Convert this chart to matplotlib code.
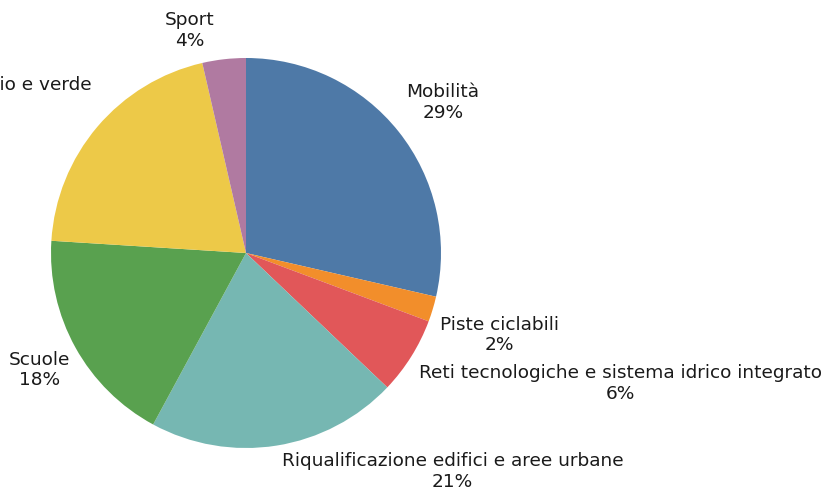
import matplotlib.pyplot as plt

labels = ["Mobilità", "Piste ciclabili", "Reti tecnologiche e sistema idrico integrato",
          "Riqualificazione edifici e aree urbane", "Scuole",
          "Arredo urbano, patrimonio e verde", "Sport"]
values = [28.6, 2.1, 6.4, 20.8, 18.1, 20.4, 3.6]
pct_labels = ["29%", "2%", "6%", "21%", "18%", "20%", "4%"]
colors = ["#4e79a7", "#f28e2b", "#e15759", "#76b7b2", "#59a14f", "#edc948", "#b07aa1"]

# label centres in pie-radius units
label_pos = [(1.01, 0.77), (1.30, -0.42), (1.92, -0.67), (1.06, -1.12),
             (-1.06, -0.60), (-1.615, 0.81), (-0.29, 1.14)]

fig = plt.figure(figsize=(8.35, 4.95), dpi=100)
ax = fig.add_axes([0, 0, 1, 1])
ax.pie(values, colors=colors, startangle=90, counterclock=False, radius=1,
       wedgeprops=dict(linewidth=0))

for lab, pct, (x, y) in zip(labels, pct_labels, label_pos):
    ax.text(x, y, lab + "\n" + pct, ha="center", va="center", fontsize=13.3,
            color="#1a1a1a", linespacing=1.2, family="DejaVu Sans")

ax.set_aspect("auto")
ax.set_xlim(-246 / 195, (835 - 246) / 195)
ax.set_ylim(-(495 - 253) / 195, 253 / 195)
ax.axis("off")

fig.savefig("out.png", dpi=100)
